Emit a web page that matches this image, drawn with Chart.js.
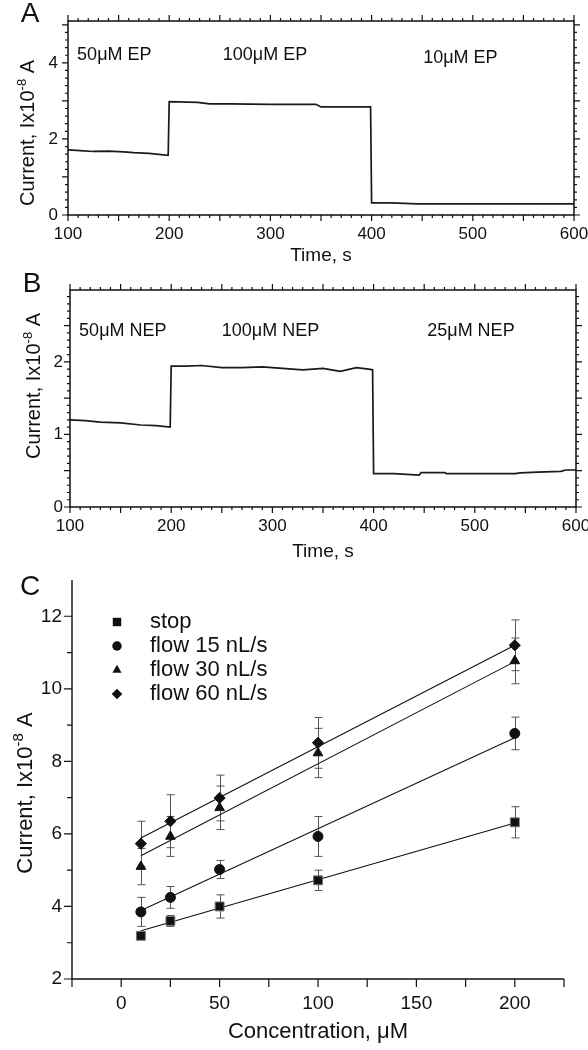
<!DOCTYPE html>
<html>
<head>
<meta charset="utf-8">
<script src="https://cdn.jsdelivr.net/npm/chart.js@4.4.1/dist/chart.umd.min.js"></script>
<style>
body { margin: 0; background: #fff; }
canvas { position: absolute; left: 0; }
</style>
</head>
<body>
<canvas id="chart-a" width="588" height="270" style="top:0px"></canvas>
<canvas id="chart-b" width="588" height="290" style="top:270px"></canvas>
<canvas id="chart-c" width="588" height="490" style="top:560px"></canvas>
<script>
const FONT = "'Liberation Sans', Arial, sans-serif";
const INK = '#111';

// Panel A - EP steps (time in s, current in 1e-8 A)
const epTime = [100, 112, 125, 140, 155, 165, 180, 199, 200, 228, 240, 260, 300, 330, 345, 350, 399, 400, 420, 445, 500, 550, 600];
const epCurrent = [1.71, 1.69, 1.67, 1.68, 1.66, 1.64, 1.62, 1.57, 2.98, 2.96, 2.92, 2.92, 2.91, 2.91, 2.91, 2.84, 2.84, 0.32, 0.32, 0.29, 0.29, 0.29, 0.29];
const epLabels = ['50μM EP', '100μM EP', '10μM EP'];
const epLabelTime = [109, 253, 451];
const epLabelLevel = [4.2, 4.2, 4.13];

// Panel B - NEP steps
const nepTime = [100, 115, 130, 150, 170, 185, 199, 200, 215, 230, 250, 270, 290, 310, 330, 350, 367, 383, 395, 399, 400, 420, 445, 447, 470, 472, 540, 545, 562, 585, 590, 600];
const nepCurrent = [1.20, 1.19, 1.17, 1.16, 1.13, 1.12, 1.10, 1.94, 1.94, 1.95, 1.92, 1.92, 1.93, 1.91, 1.89, 1.91, 1.87, 1.92, 1.90, 1.89, 0.46, 0.46, 0.44, 0.475, 0.475, 0.46, 0.46, 0.47, 0.48, 0.49, 0.51, 0.51];
const nepLabels = ['50μM NEP', '100μM NEP', '25μM NEP'];
const nepLabelTime = [109, 250, 453];
const nepLabelLevel = [2.42, 2.42, 2.42];

// Panel C - calibration
const concentration = [10, 25, 50, 100, 200];
const seriesNames = ['stop', 'flow 15 nL/s', 'flow 30 nL/s', 'flow 60 nL/s'];
const seriesStyles = ['rect', 'circle', 'triangle', 'rectRot'];
const stopMean = [3.19, 3.60, 4.00, 4.72, 6.32];
const stopErr = [0.05, 0.15, 0.32, 0.28, 0.43];
const flow15Mean = [3.85, 4.25, 5.02, 5.93, 8.77];
const flow15Err = [0.40, 0.30, 0.25, 0.55, 0.45];
const flow30Mean = [5.10, 5.93, 6.72, 8.23, 10.77];
const flow30Err = [0.50, 0.55, 0.60, 0.68, 0.63];
const flow60Mean = [5.73, 6.35, 6.99, 8.51, 11.20];
const flow60Err = [0.62, 0.73, 0.63, 0.70, 0.70];
// linear fit ends, read at 10 and 200 uM
const fitX = [10, 200];
const stopFit = [3.33, 6.30];
const flow15Fit = [3.89, 8.65];
const flow30Fit = [5.40, 10.75];
const flow60Fit = [5.89, 11.20];

const means = [stopMean, flow15Mean, flow30Mean, flow60Mean];
const errs = [stopErr, flow15Err, flow30Err, flow60Err];
const fits = [stopFit, flow15Fit, flow30Fit, flow60Fit];
const markerSize = [6.3, 5, 5.6, 5.6];

function eachTick(s, fn) {
    const n = Math.round((s.max - s.min) / s.minor);
    for (let i = 0; i <= n; i++) {
        const v = s.min + i * s.minor;
        const r = v / s.major;
        fn(v, Math.abs(r - Math.round(r)) < 1e-6 ? s.majorLen : s.minorLen);
    }
}

function marker(ctx, style, x, y, r) {
    ctx.beginPath();
    if (style === 'rect') {
        const s = r * Math.SQRT1_2;
        ctx.rect(x - s, y - s, 2 * s, 2 * s);
    } else if (style === 'circle') {
        ctx.arc(x, y, r, 0, Math.PI * 2);
    } else if (style === 'triangle') {
        for (let k = 0; k < 3; k++) {
            const a = k * Math.PI * 2 / 3;
            ctx[k ? 'lineTo' : 'moveTo'](x + Math.sin(a) * r, y - Math.cos(a) * r);
        }
    } else {
        ctx.moveTo(x - r, y); ctx.lineTo(x, y - r); ctx.lineTo(x + r, y); ctx.lineTo(x, y + r);
    }
    ctx.closePath();
    ctx.fill();
}

function drawYTitle(ctx, cx, cy, size) {
    const main = `${size}px ${FONT}`, small = `${Math.round(size * 0.66)}px ${FONT}`;
    ctx.save();
    ctx.translate(cx, cy);
    ctx.rotate(-Math.PI / 2);
    ctx.textAlign = 'left';
    ctx.textBaseline = 'alphabetic';
    ctx.font = main;
    const w1 = ctx.measureText('Current, Ix10').width;
    const w3 = ctx.measureText(' A').width;
    ctx.font = small;
    const w2 = ctx.measureText('-8').width;
    const x0 = -(w1 + w2 + w3) / 2, base = size * 0.36;
    ctx.font = main;
    ctx.fillText('Current, Ix10', x0, base);
    ctx.fillText(' A', x0 + w1 + w2, base);
    ctx.font = small;
    ctx.fillText('-8', x0 + w1, base - size * 0.42);
    ctx.restore();
}

// frame, ticks, titles, notes and legend
const decor = {
    id: 'decor',
    beforeDatasetsDraw(chart, args, o) {
        if (!o.errors) return;
        const { ctx, scales: { x, y } } = chart;
        ctx.save();
        ctx.strokeStyle = '#555';
        ctx.lineWidth = 1;
        ctx.beginPath();
        o.errors.forEach((e, s) => {
            concentration.forEach((c, i) => {
                const px = Math.round(x.getPixelForValue(c)) + 0.5;
                const hi = y.getPixelForValue(means[s][i] + e[i]);
                const lo = y.getPixelForValue(means[s][i] - e[i]);
                ctx.moveTo(px, hi); ctx.lineTo(px, lo);
                ctx.moveTo(px - 4, hi); ctx.lineTo(px + 4, hi);
                ctx.moveTo(px - 4, lo); ctx.lineTo(px + 4, lo);
            });
        });
        ctx.stroke();
        ctx.restore();
    },
    afterDraw(chart, args, o) {
        const { ctx, chartArea: a, scales: { x, y } } = chart;
        ctx.save();
        ctx.fillStyle = INK;
        ctx.strokeStyle = INK;
        ctx.lineWidth = o.axisWidth;
        ctx.beginPath();
        if (o.box) {
            ctx.rect(a.left, a.top, a.right - a.left, a.bottom - a.top);
        } else {
            ctx.moveTo(a.left, a.top); ctx.lineTo(a.left, a.bottom); ctx.lineTo(a.right, a.bottom);
        }
        ctx.stroke();

        ctx.lineWidth = 1.2;
        ctx.beginPath();
        eachTick(o.xTicks, (v, len) => {
            const px = x.getPixelForValue(v);
            ctx.moveTo(px, a.bottom); ctx.lineTo(px, a.bottom + len);
            if (o.box) { ctx.moveTo(px, a.top); ctx.lineTo(px, a.top - len); }
        });
        eachTick(o.yTicks, (v, len) => {
            const py = y.getPixelForValue(v);
            ctx.moveTo(a.left, py); ctx.lineTo(a.left - len, py);
            if (o.box) { ctx.moveTo(a.right, py); ctx.lineTo(a.right + len, py); }
        });
        ctx.stroke();

        ctx.textAlign = 'center';
        ctx.textBaseline = 'middle';
        ctx.font = `28px ${FONT}`;
        ctx.fillText(o.letter[0], o.letter[1], o.letter[2]);

        ctx.font = `${o.titleSize}px ${FONT}`;
        ctx.fillText(o.xTitle, (a.left + a.right) / 2, a.bottom + o.xTitleGap);
        drawYTitle(ctx, o.yTitle[0], o.yTitle[1], o.yTitleSize);

        if (o.notes) {
            ctx.textAlign = 'left';
            ctx.font = `18px ${FONT}`;
            o.notes.text.forEach((t, i) => {
                ctx.fillText(t, x.getPixelForValue(o.notes.at[i]), y.getPixelForValue(o.notes.level[i]));
            });
        }

        if (o.legend) {
            ctx.textAlign = 'left';
            ctx.font = `22px ${FONT}`;
            seriesNames.forEach((name, i) => {
                const ly = a.top + 42 + i * 24;
                marker(ctx, seriesStyles[i], a.left + 45, ly, markerSize[i] * 0.95);
                ctx.fillText(name, a.left + 78, ly);
            });
        }
        ctx.restore();
    }
};

function axisOpts(o) {
    return {
        type: 'linear',
        min: o.min,
        max: o.max,
        grid: { display: false, drawTicks: false },
        border: { display: false },
        ticks: {
            stepSize: o.step,
            includeBounds: false,
            padding: o.padding,
            color: INK,
            font: { family: FONT, size: o.font },
            callback: v => (o.every && Math.abs(v % o.every) > 1e-6) ? '' : String(v)
        },
        afterFit: o.fit
    };
}

function traceChart(id, time, current, p) {
    return new Chart(document.getElementById(id), {
        type: 'scatter',
        data: {
            datasets: [{
                data: time.map((t, i) => ({ x: t, y: current[i] })),
                showLine: true,
                pointRadius: 0,
                borderColor: '#1a1a1a',
                borderWidth: 1.7
            }]
        },
        options: {
            responsive: false,
            animation: false,
            layout: { padding: { top: p.top, right: p.right, left: 0, bottom: 0 } },
            scales: {
                x: axisOpts({ min: 100, max: 600, step: 100, padding: 9, font: 17,
                    fit: s => { s.height = p.xHeight; s.paddingLeft = 0; s.paddingRight = 0; } }),
                y: axisOpts({ min: 0, max: p.yMax, step: p.yStep, padding: p.yPad, font: 17,
                    fit: s => { s.width = p.left; s.paddingTop = 0; s.paddingBottom = 0; } })
            },
            plugins: {
                legend: { display: false },
                tooltip: { enabled: false },
                decor: {
                    box: true,
                    axisWidth: 1.5,
                    xTicks: { min: 100, max: 600, minor: 10, major: 50, majorLen: 6, minorLen: 3 },
                    yTicks: p.yTicks,
                    letter: p.letter,
                    titleSize: 19,
                    yTitleSize: 20,
                    xTitle: 'Time, s',
                    xTitleGap: p.xTitleGap,
                    yTitle: p.yTitle,
                    notes: p.notes
                }
            }
        },
        plugins: [decor]
    });
}

traceChart('chart-a', epTime, epCurrent, {
    top: 21, right: 14, left: 68, xHeight: 55, yMax: 5.1, yStep: 2, yPad: 10,
    yTicks: { min: 0, max: 5, minor: 0.2, major: 1, majorLen: 6, minorLen: 3 },
    letter: ['A', 30, 14], xTitleGap: 41, yTitle: [27, 133],
    notes: { text: epLabels, at: epLabelTime, level: epLabelLevel }
});

traceChart('chart-b', nepTime, nepCurrent, {
    top: 20, right: 12, left: 70, xHeight: 53, yMax: 2.99, yStep: 1, yPad: 7,
    yTicks: { min: 0, max: 2.9, minor: 0.1, major: 0.5, majorLen: 6, minorLen: 3 },
    letter: ['B', 32, 14], xTitleGap: 45, yTitle: [33, 116],
    notes: { text: nepLabels, at: nepLabelTime, level: nepLabelLevel }
});

const calDatasets = [];
seriesNames.forEach((name, i) => {
    calDatasets.push({
        label: name,
        data: concentration.map((c, k) => ({ x: c, y: means[i][k] })),
        pointStyle: seriesStyles[i],
        pointRadius: markerSize[i],
        pointBackgroundColor: '#111',
        pointBorderColor: i === 0 ? '#777' : '#111',
        pointBorderWidth: 1,
        showLine: false,
        order: 0
    });
});
seriesNames.forEach((name, i) => {
    calDatasets.push({
        label: name + ' fit',
        data: fitX.map((c, k) => ({ x: c, y: fits[i][k] })),
        showLine: true,
        pointRadius: 0,
        borderColor: '#111',
        borderWidth: 1.1,
        order: 1
    });
});

new Chart(document.getElementById('chart-c'), {
    type: 'scatter',
    data: { datasets: calDatasets },
    options: {
        responsive: false,
        animation: false,
        layout: { padding: { top: 20, right: 24, left: 0, bottom: 0 } },
        scales: {
            x: axisOpts({ min: -25, max: 225, step: 25, every: 50, padding: 13, font: 19,
                fit: s => { s.height = 71; s.paddingLeft = 0; s.paddingRight = 0; } }),
            y: axisOpts({ min: 2, max: 13, step: 2, padding: 10, font: 19,
                fit: s => { s.width = 72; s.paddingTop = 0; s.paddingBottom = 0; } })
        },
        plugins: {
            legend: { display: false },
            tooltip: { enabled: false },
            decor: {
                box: false,
                axisWidth: 1.4,
                errors: errs,
                xTicks: { min: -25, max: 225, minor: 25, major: 50, majorLen: 8, minorLen: 8 },
                yTicks: { min: 2, max: 12, minor: 1, major: 2, majorLen: 8, minorLen: 5 },
                letter: ['C', 30, 27],
                titleSize: 22,
                yTitleSize: 22,
                xTitle: 'Concentration, μM',
                xTitleGap: 53,
                yTitle: [24, 233],
                legend: true
            }
        }
    },
    plugins: [decor]
});
</script>
</body>
</html>
